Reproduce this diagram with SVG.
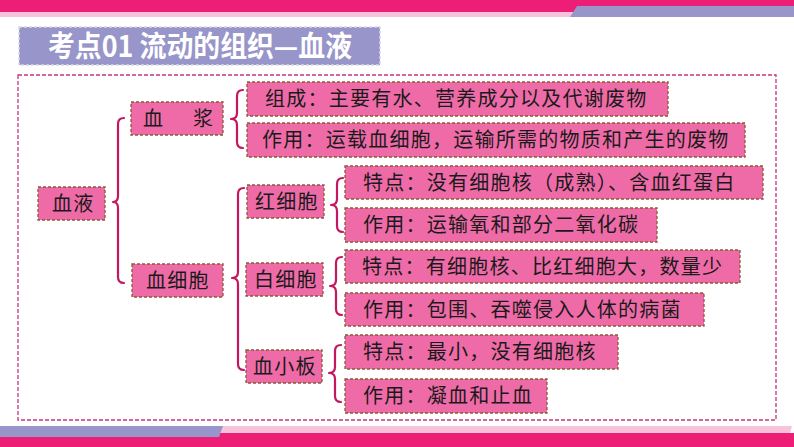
<svg xmlns="http://www.w3.org/2000/svg" width="794" height="447" viewBox="0 0 794 447">
<style>
.node{fill:#EF6BA8;stroke:#8B5A34;stroke-width:1.3;stroke-dasharray:3 2}
.t{font-family:"Noto Sans CJK SC","Noto Sans CJK TC",sans-serif;font-size:20px;fill:#1a1a1a;letter-spacing:1.25px}
.br{fill:none;stroke:#C4175F;stroke-width:2.2;stroke-linecap:round;stroke-linejoin:round}
</style>
<rect x="0" y="0" width="794" height="447" fill="#ffffff"/>
<g id="decor">
<polygon points="0,11 575,11 570,17 0,17" fill="#F8C3DA"/>
<rect x="0" y="0" width="794" height="12" fill="#EC1E76"/>
<polygon points="577,6 794,6 794,17 570,17" fill="#9795C9"/>
<polygon points="222,426 792,426 790,433 220,433" fill="#F8C3DA"/>
<rect x="0" y="433" width="794" height="14" fill="#EC1E76"/>
<polygon points="0,426 223,426 219,437 0,437" fill="#9795C9"/>
</g>
<g id="title">
<rect x="19" y="27" width="361" height="38" fill="#9795C9" stroke="#d9d6e8" stroke-width="1.5" stroke-dasharray="3 2"/>
<text x="48" y="57" font-family="Noto Sans CJK SC,sans-serif" font-size="29" font-weight="700" fill="#ffffff" textLength="304" lengthAdjust="spacingAndGlyphs">考点01 流动的组织—血液</text>
</g>
<rect id="frame" x="18" y="75" width="758" height="345" fill="none" stroke="#C8357A" stroke-width="1.3" stroke-dasharray="4 2"/>
<g id="connectors">
<path class="br" d="M124,118 Q118,118 118,124 L118,196 Q118,202 113,202 Q118,202 118,208 L118,277 Q118,283 124,283"/>
<path class="br" d="M243,90 Q237,90 237,96 L237,113 Q237,119 231,119 Q237,119 237,125 L237,142 Q237,148 243,148"/>
<path class="br" d="M244,188 Q238,188 238,194 L238,272 Q238,278 232,278 Q238,278 238,284 L238,364 Q238,370 244,370"/>
<path class="br" d="M343,178 Q337,178 337,184 L337,199 Q337,205 331,205 Q337,205 337,211 L337,226 Q337,232 343,232"/>
<path class="br" d="M342,257 Q336,257 336,263 L336,280 Q336,286 330,286 Q336,286 336,292 L336,309 Q336,315 342,315"/>
<path class="br" d="M341,345 Q335,345 335,351 L335,367 Q335,373 329,373 Q335,373 335,379 L335,396 Q335,402 341,402"/>
</g>
<g id="n-xueye"><rect class="node" x="38" y="187" width="67" height="33"/><text class="t" x="52" y="211">血液</text></g>
<g id="n-xuejiang"><rect class="node" x="131" y="102" width="92" height="33"/><text class="t" x="143" y="126">血<tspan x="193">浆</tspan></text></g>
<g id="n-xuexibao"><rect class="node" x="132" y="264" width="91" height="33"/><text class="t" x="146" y="288">血细胞</text></g>
<g id="n-zucheng"><rect class="node" x="247" y="82" width="421" height="34"/><text class="t" x="265" y="106">组成：主要有水、营养成分以及代谢废物</text></g>
<g id="n-jiang-zuoyong"><rect class="node" x="247" y="123" width="498" height="34"/><text class="t" x="262" y="147">作用：运载血细胞，运输所需的物质和产生的废物</text></g>
<g id="n-hong"><rect class="node" x="247" y="185" width="77" height="33"/><text class="t" x="255" y="209">红细胞</text></g>
<g id="n-hong-tedian"><rect class="node" x="345" y="166" width="418" height="33"/><text class="t" x="363" y="190">特点：没有细胞核（成熟）、含血红蛋白</text></g>
<g id="n-hong-zuoyong"><rect class="node" x="345" y="208" width="312" height="34"/><text class="t" x="363" y="232">作用：运输氧和部分二氧化碳</text></g>
<g id="n-bai"><rect class="node" x="246" y="263" width="77" height="33"/><text class="t" x="254" y="287">白细胞</text></g>
<g id="n-bai-tedian"><rect class="node" x="345" y="250" width="395" height="33"/><text class="t" x="362" y="274">特点：有细胞核、比红细胞大，数量少</text></g>
<g id="n-bai-zuoyong"><rect class="node" x="345" y="293" width="359" height="33"/><text class="t" x="363" y="317">作用：包围、吞噬侵入人体的病菌</text></g>
<g id="n-xiaoban"><rect class="node" x="246" y="350" width="76" height="33"/><text class="t" x="253" y="374">血小板</text></g>
<g id="n-xiaoban-tedian"><rect class="node" x="345" y="335" width="273" height="34"/><text class="t" x="363" y="359">特点：最小，没有细胞核</text></g>
<g id="n-xiaoban-zuoyong"><rect class="node" x="345" y="379" width="202" height="34"/><text class="t" x="363" y="403">作用：凝血和止血</text></g>
</svg>
